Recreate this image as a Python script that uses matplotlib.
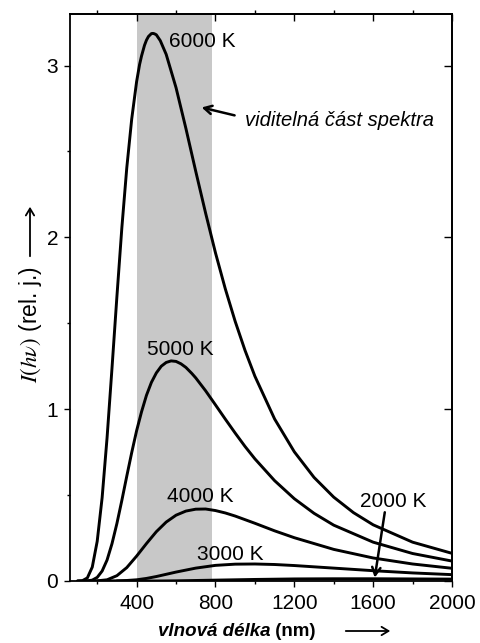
import matplotlib
matplotlib.use("Agg")
import matplotlib.pyplot as plt
from matplotlib.patches import FancyArrowPatch
from matplotlib.ticker import MultipleLocator

plt.rcParams["font.family"] = ["Liberation Sans", "DejaVu Sans"]
plt.rcParams["mathtext.fontset"] = "stix"

# ----- spectral curves (wavelength in nm, intensity in rel. units) -----
wl_6000 = [100, 125, 150, 175, 200, 225, 250, 275, 300, 325, 350, 375, 400, 415, 425, 440,
           450, 460, 475, 483, 490, 500, 520, 550, 600, 650, 700, 750, 800, 850, 900, 950,
           1000, 1100, 1200, 1300, 1400, 1500, 1600, 1800, 2000]
I_6000 = [0.0, 0.002, 0.018, 0.081, 0.231, 0.485, 0.833, 1.238, 1.656, 2.055, 2.404, 2.688,
          2.907, 3.006, 3.056, 3.118, 3.148, 3.169, 3.186, 3.187, 3.185, 3.179, 3.145, 3.065,
          2.871, 2.634, 2.384, 2.141, 1.910, 1.700, 1.511, 1.342, 1.192, 0.943, 0.752, 0.603,
          0.488, 0.398, 0.327, 0.226, 0.161]

wl_5000 = [100, 150, 175, 200, 225, 250, 275, 300, 325, 350, 375, 400, 425, 450, 475, 500,
           525, 550, 575, 600, 625, 650, 680, 700, 750, 800, 850, 900, 950, 1000, 1100, 1200,
           1300, 1400, 1600, 1800, 2000]
I_5000 = [0.0, 0.001, 0.005, 0.021, 0.058, 0.122, 0.217, 0.335, 0.469, 0.610, 0.747, 0.875,
          0.985, 1.081, 1.156, 1.211, 1.250, 1.272, 1.281, 1.278, 1.264, 1.243, 1.208, 1.182,
          1.107, 1.025, 0.942, 0.861, 0.783, 0.711, 0.584, 0.479, 0.394, 0.325, 0.226, 0.160,
          0.116]

wl_4000 = [150, 200, 250, 300, 350, 400, 450, 500, 550, 600, 650, 700, 750, 800, 850, 900,
           1000, 1100, 1200, 1400, 1600, 1800, 2000]
I_4000 = [0.0, 0.001, 0.007, 0.031, 0.078, 0.145, 0.218, 0.287, 0.343, 0.383, 0.407, 0.418,
          0.419, 0.410, 0.396, 0.378, 0.336, 0.292, 0.252, 0.184, 0.134, 0.099, 0.074]

wl_3000 = [200, 300, 350, 400, 450, 500, 550, 600, 700, 800, 900, 1000, 1100, 1200, 1400,
           1600, 1800, 2000]
I_3000 = [0.0, 0.001, 0.003, 0.007, 0.015, 0.026, 0.039, 0.052, 0.075, 0.091, 0.098, 0.099,
          0.096, 0.090, 0.075, 0.060, 0.047, 0.037]

wl_2000 = [300, 500, 600, 800, 1000, 1200, 1400, 1600, 1800, 2000]
I_2000 = [0.0, 0.0, 0.001, 0.005, 0.009, 0.012, 0.013, 0.013, 0.012, 0.011]

visible_band = (400, 780)

curves = [(wl_6000, I_6000), (wl_5000, I_5000), (wl_4000, I_4000),
          (wl_3000, I_3000), (wl_2000, I_2000)]

fig = plt.figure(figsize=(4.8, 6.43), dpi=100)
ax = fig.add_axes([70 / 480, 1 - 581 / 643, 382 / 480, 567 / 643])

ax.axvspan(*visible_band, color="#c8c8c8", lw=0, zorder=0)
for wl, inten in curves:
    ax.plot(wl, inten, color="black", lw=2.1, solid_capstyle="round",
            solid_joinstyle="round", zorder=3)

ax.set_xlim(62, 2000)
ax.set_ylim(0, 3.3)

# bottom / left ticks
ax.xaxis.set_major_locator(MultipleLocator(400))
ax.xaxis.set_minor_locator(MultipleLocator(200))
ax.yaxis.set_major_locator(MultipleLocator(1))
ax.yaxis.set_minor_locator(MultipleLocator(0.5))
ax.tick_params(which="major", direction="out", length=4.5, width=1, labelsize=15, pad=4)
ax.tick_params(which="minor", direction="out", length=2.5, width=1)
ax.tick_params(axis="x", which="major", pad=5)
for sp in ax.spines.values():
    sp.set_linewidth(1.3)

# top ticks: majors point in, minors point out
top = ax.secondary_xaxis("top")
top.xaxis.set_major_locator(MultipleLocator(400))
top.xaxis.set_minor_locator(MultipleLocator(200))
top.tick_params(which="major", direction="in", length=5, width=1, labeltop=False)
top.tick_params(which="minor", direction="out", length=3, width=1)
top.spines["top"].set_linewidth(1.3)

right = ax.secondary_yaxis("right")
right.yaxis.set_major_locator(MultipleLocator(1))
right.tick_params(which="major", direction="in", length=6, width=1, labelright=False)
right.spines["right"].set_linewidth(1.3)

# curve labels
lab_kw = dict(fontsize=15, ha="left", va="baseline", zorder=5)
ax.text(562, 3.106, "6000 K", **lab_kw)
ax.text(451, 1.314, "5000 K", **lab_kw)
ax.text(552, 0.461, "4000 K", **lab_kw)
ax.text(705, 0.122, "3000 K", **lab_kw)
ax.text(1532, 0.43, "2000 K", **lab_kw)

arrow_kw = dict(arrowstyle="->,head_length=0.55,head_width=0.3", lw=1.8, color="black",
                shrinkA=0, shrinkB=0)
ax.annotate("", xy=(1608, 0.02), xytext=(1659, 0.40), arrowprops=arrow_kw)
ax.annotate("", xy=(730, 2.756), xytext=(897, 2.71), arrowprops=arrow_kw)
ax.text(948, 2.651, "viditelná část spektra", fontsize=14.5, style="italic",
        ha="left", va="baseline")

# axis titles
fig.text(30 / 480, 1 - 325 / 643, r"$I(h\nu)$ (rel. j.)", rotation=90, fontsize=16.5,
         ha="center", va="center")
fig.add_artist(FancyArrowPatch(
    (30 / 480, 1 - 259 / 643), (30 / 480, 1 - 204 / 643), transform=fig.transFigure,
    arrowstyle="->,head_length=5,head_width=3", lw=1.3, color="black"))

t1 = fig.text(158 / 480, 1 - 631 / 643, "vlnová délka", fontsize=13.5,
              fontweight="bold", style="italic", ha="left", va="center")
ax.annotate(" (nm)", xy=(1, 0), xycoords=t1, fontsize=13.5, fontweight="bold",
            ha="left", va="bottom", annotation_clip=False)
fig.add_artist(FancyArrowPatch(
    (343 / 480, 1 - 631 / 643), (393 / 480, 1 - 631 / 643), transform=fig.transFigure,
    arrowstyle="->,head_length=5,head_width=3", lw=1.3, color="black"))

fig.savefig("out.png", dpi=100)
